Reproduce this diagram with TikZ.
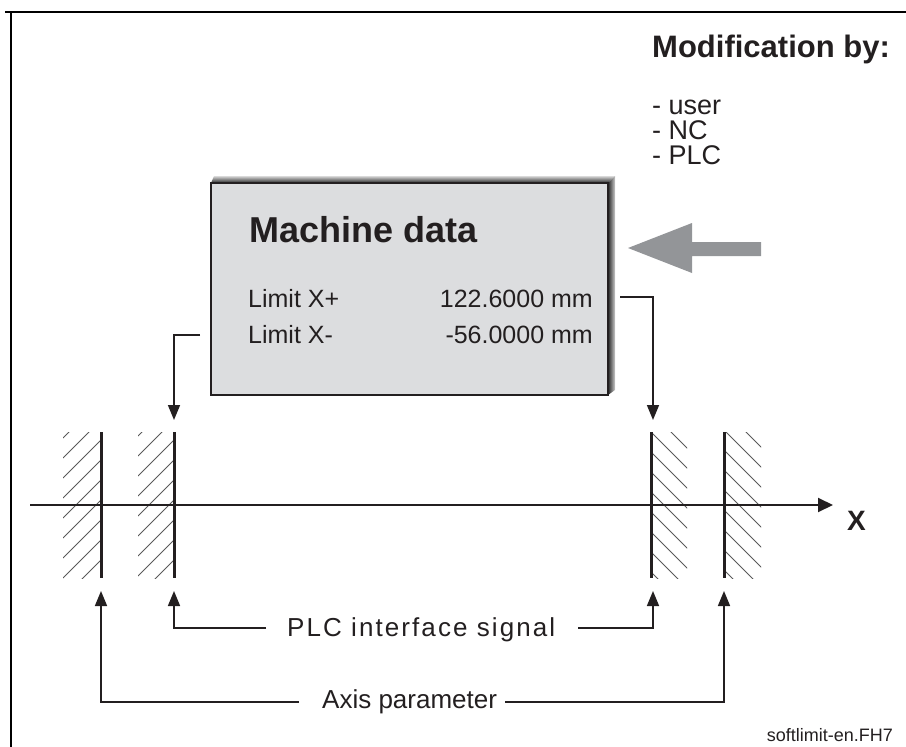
\documentclass[tikz,border=0pt]{standalone}
\usepackage{fontspec}
\setmainfont{Liberation Sans}
\usetikzlibrary{arrows.meta}
\definecolor{boxfill}{HTML}{DCDDDF}
\definecolor{arrowgray}{HTML}{939598}
\definecolor{ink}{HTML}{231F20}
\begin{document}
\begin{tikzpicture}[x=1pt,y=-1pt,
  txt/.style={inner sep=0pt, anchor=base west, text=ink},
  txtr/.style={inner sep=0pt, anchor=base east, text=ink},
  listtxt/.style={txt, font=\fontsize{27}{30}\selectfont},
  conn/.style={draw=ink, line width=1.6pt, -{Triangle[length=15pt,width=12pt]}},
  limitline/.style={draw=ink, line width=3pt},
  hatch/.style={draw=black!65, line width=1pt},
  frame/.style={draw=black, line width=2.5pt}]
\useasboundingbox (0,0) rectangle (906,747);
% frame
\draw[frame] (5,12) -- (906,12);
\draw[frame] (11,11) -- (11,747);
% machine data box shadow
\shade[top color=black!15, bottom color=black!85] (211,183) -- (214,176) -- (615,176) -- (608,183) -- cycle;
\shade[left color=black!85, right color=black!20] (608,183) -- (615,176) -- (615,390) -- (608,395) -- cycle;
\node[draw=ink, line width=1.5pt, fill=boxfill, minimum width=397pt, minimum height=212pt, inner sep=0pt] (md) at (409.5,289) {};
\node[txt, font=\bfseries\fontsize{36}{40}\selectfont] (mdtitle) at (249,242) {Machine data};
\node[txt, font=\fontsize{25}{30}\selectfont] (lxp) at (248,307) {Limit X+};
\node[txtr, font=\fontsize{25}{30}\selectfont] (vxp) at (593,307) {122.6000 mm};
\node[txt, font=\fontsize{25}{30}\selectfont] (lxm) at (248,343) {Limit X-};
\node[txtr, font=\fontsize{25}{30}\selectfont] (vxm) at (593,343) {-56.0000 mm};
% modification
\node[txt, font=\bfseries\fontsize{31}{34}\selectfont] (modby) at (652,57) {Modification by:};
\node[listtxt] (m1) at (652,114) {- user};
\node[listtxt] (m2) at (652,139) {- NC};
\node[listtxt] (m3) at (652,164) {- PLC};
% gray arrow
\fill[arrowgray] (628,248) -- (692,223) -- (692,242) -- (761,242) -- (761,256) -- (692,256) -- (692,273) -- cycle;
% hatching
\begin{scope}
  \clip (63,432) rectangle (101,578);
  \foreach \k in {0,...,10} \draw[hatch] (63,438+20*\k) -- ++(60,-60);
\end{scope}
\begin{scope}
  \clip (138,432) rectangle (174,578);
  \foreach \k in {0,...,10} \draw[hatch] (138,436+20*\k) -- ++(60,-60);
\end{scope}
\begin{scope}
  \clip (651,432) rectangle (687,578);
  \foreach \k in {0,...,10} \draw[hatch] (651,412+20*\k) -- ++(60,60);
\end{scope}
\begin{scope}
  \clip (724,432) rectangle (761,578);
  \foreach \k in {0,...,10} \draw[hatch] (724,410+20*\k) -- ++(60,60);
\end{scope}
% axis
\coordinate (axL) at (30,505);
\coordinate (axR) at (833,505);
\draw[draw=ink, line width=2pt, -{Triangle[length=15pt,width=14pt]}] (axL) -- (axR);
\node[txt, font=\bfseries\fontsize{28}{30}\selectfont] (xlab) at (847,530) {X};
% limit lines
\coordinate (b1t) at (101,432); \coordinate (b1b) at (101,578);
\coordinate (b2t) at (174,432); \coordinate (b2b) at (174,578);
\coordinate (b3t) at (651,432); \coordinate (b3b) at (651,578);
\coordinate (b4t) at (724,432); \coordinate (b4b) at (724,578);
\draw[limitline] (b1t) -- (b1b);
\draw[limitline] (b2t) -- (b2b);
\draw[limitline] (b3t) -- (b3b);
\draw[limitline] (b4t) -- (b4b);
% connectors from box
\coordinate (cl) at (200,335);
\coordinate (cr) at (620,297);
\coordinate (b2in) at (174,420);
\coordinate (b3in) at (653,420);
\draw[conn] (cl) -| (b2in);
\draw[conn] (cr) -| (b3in);
% bottom labels
\node[txt, font=\fontsize{26}{30}\selectfont\addfontfeature{LetterSpace=8}] (plc) at (287,636) {PLC interface signal};
\node[txt, font=\fontsize{26}{30}\selectfont] (axp) at (322,708) {Axis parameter};
\coordinate (plcl) at (266,628);
\coordinate (plcr) at (578,628);
\coordinate (axl) at (299,702);
\coordinate (axr) at (505,702);
\coordinate (b1u) at (101,591);
\coordinate (b2u) at (174,591);
\coordinate (b3u) at (653,591);
\coordinate (b4u) at (724,591);
\draw[conn] (plcl) -| (b2u);
\draw[conn] (plcr) -| (b3u);
\draw[conn] (axl) -| (b1u);
\draw[conn] (axr) -| (b4u);
\node[txtr, font=\fontsize{18}{20}\selectfont] (fname) at (893,741) {softlimit-en.FH7};
\end{tikzpicture}
\end{document}
